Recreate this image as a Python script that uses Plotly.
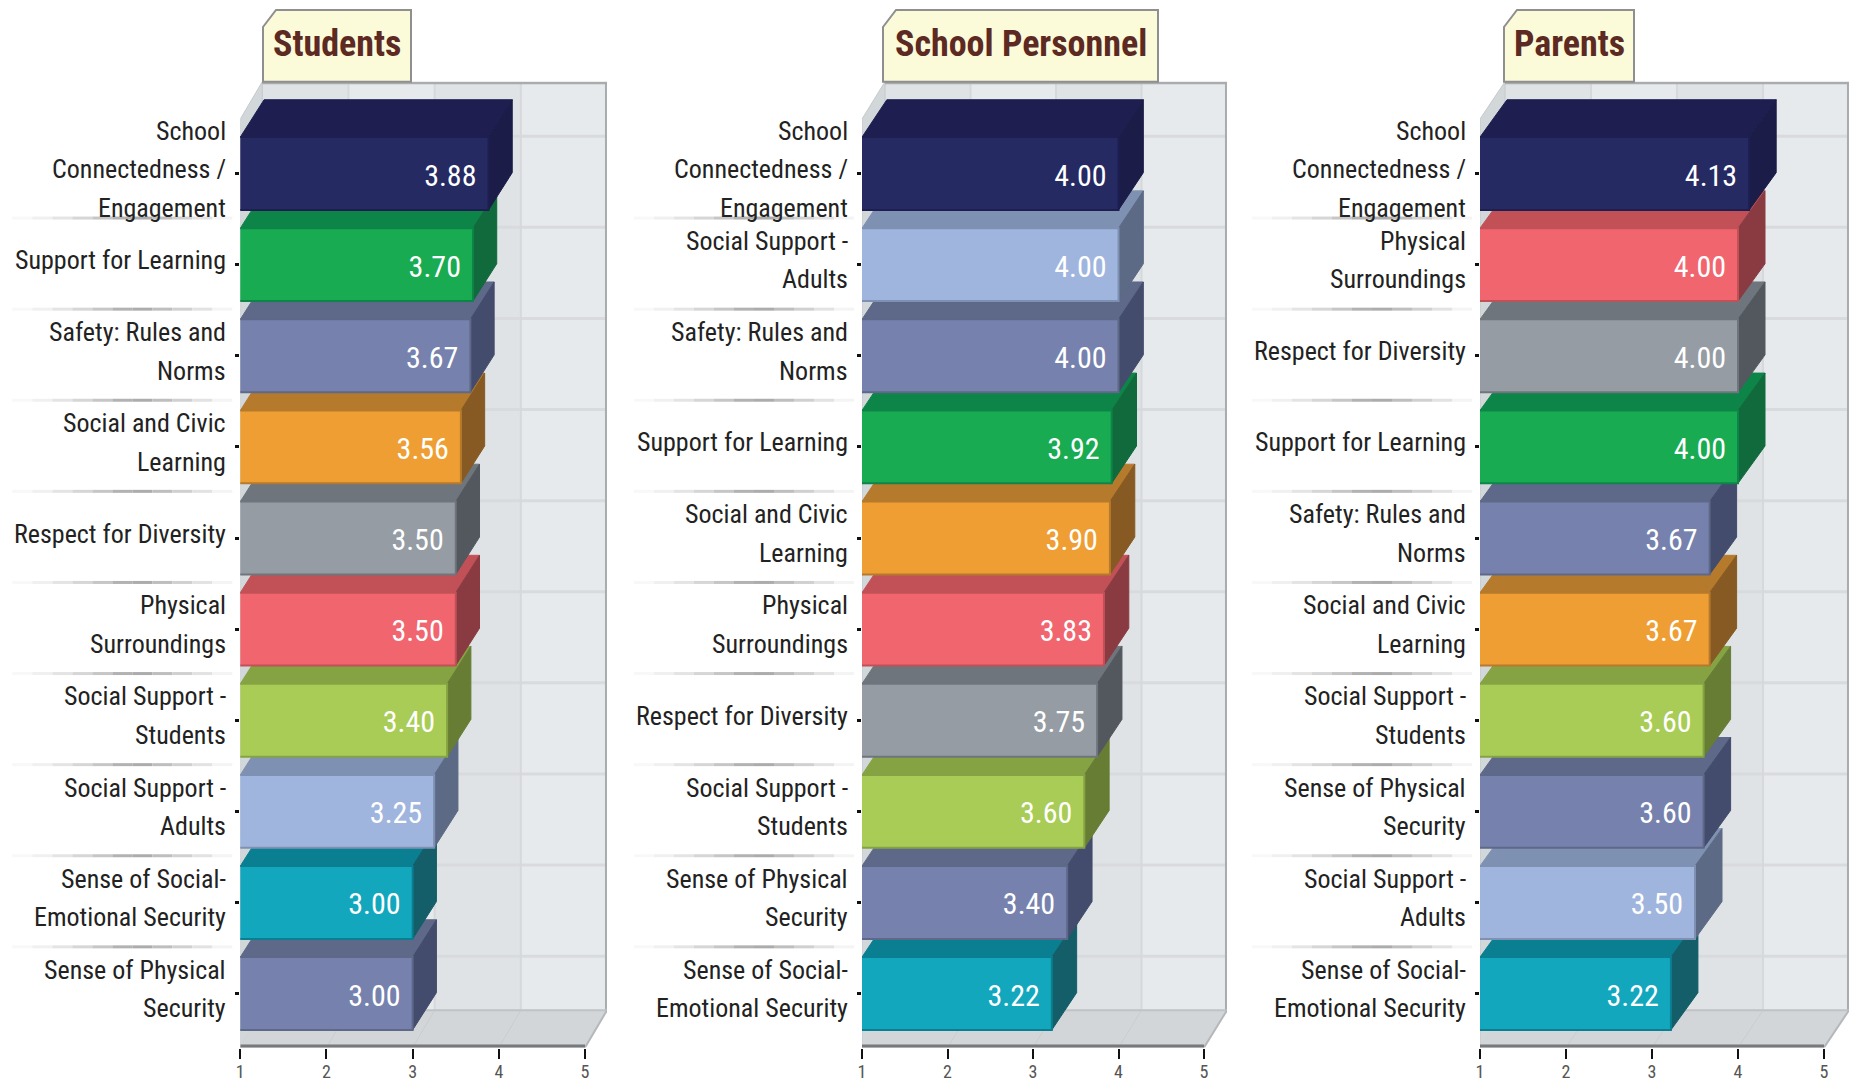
import plotly.graph_objects as go

# ---- data ----
students_labels = ["School<br>Connectedness /<br>Engagement", "Support for Learning", "Safety: Rules and<br>Norms",
                   "Social and Civic<br>Learning", "Respect for Diversity", "Physical<br>Surroundings",
                   "Social Support -<br>Students", "Social Support -<br>Adults",
                   "Sense of Social-<br>Emotional Security", "Sense of Physical<br>Security"]
students_values = [3.88, 3.70, 3.67, 3.56, 3.50, 3.50, 3.40, 3.25, 3.00, 3.00]

personnel_labels = ["School<br>Connectedness /<br>Engagement", "Social Support -<br>Adults", "Safety: Rules and<br>Norms",
                    "Support for Learning", "Social and Civic<br>Learning", "Physical<br>Surroundings",
                    "Respect for Diversity", "Social Support -<br>Students", "Sense of Physical<br>Security",
                    "Sense of Social-<br>Emotional Security"]
personnel_values = [4.00, 4.00, 4.00, 3.92, 3.90, 3.83, 3.75, 3.60, 3.40, 3.22]

parents_labels = ["School<br>Connectedness /<br>Engagement", "Physical<br>Surroundings", "Respect for Diversity",
                  "Support for Learning", "Safety: Rules and<br>Norms", "Social and Civic<br>Learning",
                  "Social Support -<br>Students", "Sense of Physical<br>Security", "Social Support -<br>Adults",
                  "Sense of Social-<br>Emotional Security"]
parents_values = [4.13, 4.00, 4.00, 4.00, 3.67, 3.67, 3.60, 3.60, 3.50, 3.22]

# front, top, side
palette = {
    "School": ("#252a63", "#1e1f50", "#1b1d48"),
    "Support": ("#19ab52", "#0e8548", "#106a3c"),
    "Safety": ("#7682ad", "#5e6888", "#434c6c"),
    "Social and": ("#ee9e33", "#b67a2d", "#865a22"),
    "Respect": ("#959ca4", "#6f757c", "#53585e"),
    "Physical": ("#f1656f", "#c25157", "#8a3b42"),
    "Social Support -<br>Students": ("#a8cc55", "#86a344", "#677d34"),
    "Social Support -<br>Adults": ("#9fb5de", "#7f91b2", "#5c6a85"),
    "Sense of Social": ("#12a7bd", "#0a7f91", "#135e69"),
    "Sense of Physical": ("#7682ad", "#5e6888", "#434c6c"),
}

panels = [
    dict(title="Students", labels=students_labels, values=students_values,
         left=240.3, tick5=585, right=607, box=(263, 411)),
    dict(title="School Personnel", labels=personnel_labels, values=personnel_values,
         left=862, tick5=1204, right=1227, box=(883, 1158)),
    dict(title="Parents", labels=parents_labels, values=parents_values,
         left=1480, tick5=1824, right=1849, box=(1504, 1634)),
]

W, H = 1856, 1084
TOP, BOTTOM = 81.7, 1047.6
FONT = "Roboto Condensed, DejaVu Sans Condensed, Roboto, sans-serif"
Y_RANGE = [9.593, -1.008]
BAR_H = 0.80
DEPTH_Y = 0.41
WALL_DY = 0.41
LINE_PITCH = 38.5
SEP_GREYS = [248, 240, 228, 214, 198, 178, 172, 190, 208, 226, 244]


def colours(label):
    for key, c in palette.items():
        if label.startswith(key):
            return c
    raise KeyError(label)


def px(x):
    return x / W


def py(y):
    return 1 - y / H


fig = go.Figure()
shapes, annotations = [], []

for n, p in enumerate(panels):
    suffix = "" if n == 0 else str(n + 1)
    xa, ya = "x" + suffix, "y" + suffix
    unit = (p["tick5"] - p["left"]) / 4
    xmax = 1 + (p["right"] - p["left"]) / unit
    dx = xmax - 5
    bar_dx = dx * 1.08
    fig.layout["xaxis" + suffix] = dict(
        domain=[px(p["left"]), px(p["right"])], range=[1, xmax], anchor=ya, automargin=False,
        tickvals=[1, 2, 3, 4, 5], ticks="outside", ticklen=10, tickwidth=2, tickcolor="#111111",
        showgrid=False, zeroline=False, showline=False,
        tickfont=dict(family=FONT, size=18, color="#555555"), ticklabelstandoff=-2)
    fig.layout["yaxis" + suffix] = dict(
        domain=[py(BOTTOM), py(TOP)], range=Y_RANGE, anchor=xa, automargin=False,
        tickvals=list(range(10)), ticktext=[""] * 10, ticks="outside", ticklen=4, tickwidth=3,
        tickcolor="#111111", showgrid=False, zeroline=False, showline=False)

    def rect(x0, x1, y0, y1, fill, line=None, lw=0):
        shapes.append(dict(type="rect", xref=xa, yref=ya, x0=x0, x1=x1, y0=y0, y1=y1, layer="below",
                           fillcolor=fill, line=dict(color=line or fill, width=lw)))

    def seg(x0, x1, y0, y1, col, lw):
        shapes.append(dict(type="line", xref=xa, yref=ya, x0=x0, x1=x1, y0=y0, y1=y1, layer="below",
                           line=dict(color=col, width=lw)))

    def poly(points, fill, line=None):
        path = "M " + " L ".join(f"{a},{b}" for a, b in points) + " Z"
        shapes.append(dict(type="path", xref=xa, yref=ya, path=path, layer="below", fillcolor=fill,
                           line=dict(color=line or fill, width=1)))

    floor_front = Y_RANGE[0]
    floor_back = floor_front - WALL_DY
    top_back = Y_RANGE[1]

    # back wall stripes
    for i, t in enumerate([1, 2, 3, 4]):
        rect(t + dx, t + 1 + dx, top_back, floor_back, "#dfe3e6" if i % 2 == 0 else "#e6eaed")
    # left wall and floor
    poly([(1, floor_front), (1 + dx, floor_back), (1 + dx, top_back), (1, top_back + WALL_DY)], "#d2d7da", "#c4c8cb")
    poly([(1, floor_front), (5, floor_front), (5 + dx, floor_back), (1 + dx, floor_back)], "#d3d6d9")
    # gridlines
    for i in range(10):
        seg(1 + dx, 5 + dx, i - WALL_DY, i - WALL_DY, "#d9dade", 3)
    for t in [2, 3, 4]:
        seg(t + dx, t + dx, top_back, floor_back, "#d6d8db", 2)
        seg(t, t + dx, floor_front, floor_back, "#c9ccd0", 1)
    # wall borders
    seg(1 + dx, 5 + dx, top_back + 0.012, top_back + 0.012, "#a9acae", 3)
    seg(5 + dx - 0.012, 5 + dx - 0.012, top_back, floor_back, "#a9acae", 2)
    seg(1 + dx, 5 + dx, floor_back, floor_back, "#c0c3c6", 2)
    seg(5 + dx, 5, floor_back, floor_front, "#b5b8bb", 2)
    seg(1, 5, floor_front - 0.012, floor_front - 0.012, "#77797b", 4)

    # bars: painted from the bottom row up, upper rows overlap lower ones
    for i in range(9, -1, -1):
        v, lab = p["values"][i], p["labels"][i]
        front, top, side = colours(lab)
        z = 2 * (9 - i)
        yt = i - BAR_H / 2
        yb = i + BAR_H / 2
        fig.add_trace(go.Scatter(
            x=[1, v, v + bar_dx, 1 + bar_dx, 1], y=[yt, yt, yt - DEPTH_Y, yt - DEPTH_Y, yt],
            mode="lines", fill="toself", fillcolor=top, line=dict(color=top, width=1),
            xaxis=xa, yaxis=ya, hoverinfo="skip", showlegend=False, zorder=z))
        fig.add_trace(go.Scatter(
            x=[v, v + bar_dx, v + bar_dx, v, v], y=[yt, yt - DEPTH_Y, yb - DEPTH_Y, yb, yt],
            mode="lines", fill="toself", fillcolor=side, line=dict(color=side, width=1),
            xaxis=xa, yaxis=ya, hoverinfo="skip", showlegend=False, zorder=z))
        fig.add_trace(go.Bar(
            x=[v], y=[i], orientation="h", width=BAR_H, marker=dict(color=front, line=dict(color=top, width=2)),
            xaxis=xa, yaxis=ya, showlegend=False, zorder=z + 1))

    # value labels
    fig.add_trace(go.Scatter(
        x=[v - 12 / unit for v in p["values"]], y=[i + 0.05 for i in range(10)], mode="text",
        text=[f"{v:.2f}" for v in p["values"]], textposition="middle left",
        textfont=dict(family=FONT, size=30, color="#ffffff"),
        xaxis=xa, yaxis=ya, hoverinfo="skip", showlegend=False, zorder=50))

    # category labels, one annotation per line for the tall line pitch of the original
    for i, lab in enumerate(p["labels"]):
        lines = lab.split("<br>")
        for k, text in enumerate(lines):
            annotations.append(dict(xref=xa, yref=ya, x=1, y=i, text=text, showarrow=False,
                                    xanchor="right", yanchor="middle", xshift=-12,
                                    yshift=4.5 - (k - (len(lines) - 1) / 2) * LINE_PITCH,
                                    font=dict(family=FONT, size=26, color="#222222")))

    # gradient separators in the label column
    left_col = p["left"] - 228
    seg_w = 220 / len(SEP_GREYS)
    for i in range(9):
        ypx = 173.5 + 91.1 * (i + 0.5) - 1
        for k, g in enumerate(SEP_GREYS):
            shapes.append(dict(type="line", xref="paper", yref="paper",
                               x0=px(left_col + k * seg_w), x1=px(left_col + (k + 1) * seg_w),
                               y0=py(ypx), y1=py(ypx), layer="below",
                               line=dict(color=f"rgb({g},{g},{g})", width=3)))

    # title tab
    bx0, bx1 = p["box"]
    tab = [(bx0, TOP), (bx0, 27), (bx0 + 13, 10), (bx1, 10), (bx1, TOP)]
    shapes.append(dict(type="path", xref="paper", yref="paper",
                       path="M " + " L ".join(f"{px(a)},{py(b)}" for a, b in tab) + " Z",
                       fillcolor="#fbfad9", line=dict(color="#8f8f8f", width=2), layer="above"))
    annotations.append(dict(xref="paper", yref="paper", x=px((bx0 + bx1) / 2), y=py(44), text=p["title"],
                            showarrow=False, xanchor="center", yanchor="middle",
                            font=dict(family=FONT, size=36, color="#5c2a22", weight="bold")))

fig.update_layout(width=W, height=H, margin=dict(l=0, r=0, t=0, b=0), paper_bgcolor="white",
                  plot_bgcolor="white", showlegend=False, barmode="overlay", shapes=shapes,
                  annotations=annotations)
fig.write_html("out.html", config={"displayModeBar": False}, post_script="document.body.style.margin='0';")
